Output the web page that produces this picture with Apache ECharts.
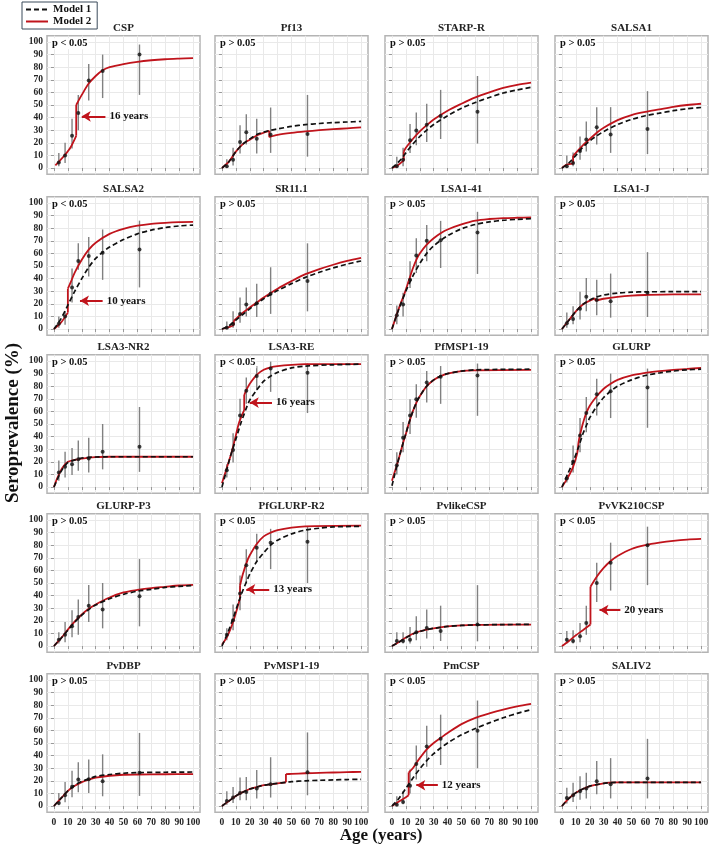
<!DOCTYPE html>
<html><head><meta charset="utf-8">
<script src="https://cdn.jsdelivr.net/npm/echarts@6/dist/echarts.min.js"></script>
<style>html,body{margin:0;padding:0;background:#fff}#c{width:718px;height:847px}</style>
</head><body><div id="c"></div>
<script>
// ---------------- DATA ----------------
const panelNames = ['CSP','Pf13','STARP-R','SALSA1','SALSA2','SR11.1','LSA1-41','LSA1-J',
  'LSA3-NR2','LSA3-RE','PfMSP1-19','GLURP','GLURP-P3','PfGLURP-R2','PvlikeCSP','PvVK210CSP',
  'PvDBP','PvMSP1-19','PmCSP','SALIV2'];
const pValues = ['p < 0.05','p > 0.05','p > 0.05','p > 0.05','p < 0.05','p > 0.05','p > 0.05','p > 0.05',
  'p > 0.05','p < 0.05','p > 0.05','p > 0.05','p > 0.05','p < 0.05','p > 0.05','p < 0.05',
  'p > 0.05','p > 0.05','p < 0.05','p > 0.05'];
const ageGroups = [3.5, 8, 13, 17.5, 25, 35, 61.5];
const tickValues = [0,10,20,30,40,50,60,70,80,90,100];

const observed = [
  [4.4,10,25.6,43.7,69.5,77,90],
  [1.3,6.5,20.7,28.4,23.3,26.4,27],
  [1.3,6.5,22,29.7,34.4,41.3,44.7],
  [1.3,4,13.4,22.7,32.3,26.6,31],
  [4.2,10,33,54,58,60.5,63],
  [1,4,12,19.5,20.5,28,38],
  [11,19.5,39,58.4,70,70.5,76.6],
  [4.5,8,16,25.5,23,22,28.7],
  [11.5,16,18,22,22.7,28,32],
  [13.3,29.3,56.8,76.3,88,94,90.7],
  [17.3,39,56.8,69.6,83,87.5,88.5],
  [6.7,20,40.8,58.7,73.6,76,79],
  [5,9,15.6,23,32,29,39.5],
  [9,20.4,41.6,64,78,82,82.7],
  [4,4,5,11,14.3,12,17],
  [5,4,7.7,18.3,50,66,80],
  [2.4,8.5,15.2,21,21.3,19.7,26.4],
  [4,6.7,10.4,11.2,13.9,17.3,26.7],
  [1,3.2,16,33.3,47.2,53.3,59.7],
  [6.4,8.5,11.7,13.9,19.7,17.3,21.9]
];
const lowerCI = [
  [1.3,4,15.5,30,53.5,55.5,58],
  [0,2,11.6,18.6,11.6,12,9],
  [0,1.3,12,18,20.7,23,19.4],
  [0,1.3,6.5,13,18.6,12,11],
  [1,3.4,21,47,41.6,39,33],
  [0,1,5,10,9.5,12,14],
  [3.7,10,32.6,44.5,53.7,48.4,43.7],
  [1,3.7,7.6,14,11,9,9.5],
  [5,7.5,9.6,12.8,11.5,14,12],
  [7.5,19.5,52.8,66,76.8,75.5,58.7],
  [10,27.5,42,55,67,66,56.5],
  [3.5,11.5,27.5,43.5,56.8,54.7,47],
  [2,3,7,9,19,14,15.6],
  [4.5,12.5,28.4,49.6,67,61,50],
  [2,2,2,4.5,6,4,3.7],
  [2,2,3,9,35,44,48.3],
  [0.5,3,7,11,10.4,7.7,8],
  [1,2.4,4.5,4.5,6,6.7,8.5],
  [0,1.3,10,21,31.2,32.5,30],
  [2,3.2,5,6,9.3,6,6]
];
const upperCI = [
  [12,20,39,58,82.5,90,98],
  [7,16,34,42.6,39,48,58],
  [9,16,35,44,51,62,73],
  [10,12.4,25,37,48.3,48.3,61],
  [10,14,48,68,73,79,86],
  [6,14,25,33,36,49,68],
  [18.7,28.7,53.7,72,82.6,85.8,93],
  [13,18,29.5,40.5,39,44,61],
  [21,28,31,37,39,50,63.5],
  [18,42.7,70,87,96,99.5,98],
  [27.5,51.5,69.6,81.6,92,96,98],
  [10,33,54.7,71.5,86,90,94],
  [11,19,28.4,37,48.5,50,69],
  [14,33,56,76.7,89,93,95],
  [11,11,15,23.6,29,32,48.3],
  [12,12.5,18.3,32,66,82,94.7],
  [10.4,19,28,34.7,37,41,58],
  [11.7,15,22.7,23,28.5,38.7,58.4],
  [7.7,12,29,48,63.7,72.5,83.7],
  [14.4,18.4,23.7,26.4,35.7,38,53.3]
];
// Model 1 curves ([age, %]); null = not shown
const model1 = [
  null,
  [[0,0],[5,5],[10,13],[15,19],[20,23],[25,26.5],[30,28.5],[35,30],[40,31],[50,33],[60,34.4],[70,35.3],[80,36],[90,36.5],[100,37]],
  [[0,0],[5,5],[10,12],[15,19],[20,25],[25,30],[30,34.5],[40,41.5],[50,47.5],[60,52],[70,56],[80,59.5],[90,62],[100,64]],
  [[0,0],[5,4],[10,10],[15,16.5],[20,21.5],[25,25.5],[30,29],[40,34.5],[50,38.5],[60,41.5],[70,43.5],[80,45.5],[90,47],[100,48]],
  [[0,0],[5,8],[10,19],[15,30],[20,40],[25,49],[30,56],[35,61],[40,65],[50,71],[60,75.5],[70,78.5],[80,80.5],[90,81.8],[100,82.5]],
  [[0,0],[5,2.5],[10,7],[15,11.5],[20,16],[25,20],[30,24],[40,30.5],[50,36],[60,41],[70,45],[80,48.5],[90,51.5],[100,54]],
  [[0,0],[5,16],[10,30],[15,42],[20,52],[25,60],[30,66],[40,74],[50,79.5],[60,83],[70,85],[80,86.3],[90,87],[100,87.5]],
  [[0,0],[5,7],[10,14],[15,19.5],[20,23],[25,25.5],[30,27],[40,28.5],[50,29.2],[60,29.5],[80,29.6],[100,29.6]],
  [[0,0],[2,5],[4,10],[6,14],[8,17],[10,19.5],[15,21.5],[20,23],[30,23.8],[40,24],[100,24]],
  [[0,0],[2,8],[4,16],[6,24],[8,31],[10,38],[12,45],[14,52],[16,58],[18,64],[20,69],[25,77],[30,84],[35,88],[40,91],[50,94.5],[60,96],[80,97],[100,97.5]],
  [[0,1],[2,10],[4,19],[6,27],[8,35],[10,42.5],[12,50],[15,60],[18,68],[20,72],[25,80],[30,85],[35,88],[40,90],[50,92],[60,93],[100,93.5]],
  [[0,0],[4,10],[8,20],[12,32],[15,42],[18,50],[20,55],[25,64],[30,71],[35,76],[40,80],[50,85],[60,88.5],[70,90.5],[80,92],[90,93],[100,93.5]],
  [[0,0],[5,6],[10,12.5],[15,19],[20,24.5],[25,29],[30,32.5],[40,37.5],[50,41],[60,43.5],[70,45],[80,46.5],[90,47.3],[100,48]],
  [[0,0],[4,10],[8,22],[12,35],[15,44],[18,52],[20,57],[25,67],[30,74],[35,80],[40,84],[50,89],[60,92],[70,93.5],[80,94.5],[100,95]],
  [[0,0],[5,3],[10,6.5],[15,9.5],[20,11.5],[25,13],[30,14],[40,15.5],[50,16.3],[60,16.7],[80,17],[100,17.2]],
  null,
  [[0,0],[5,6],[10,12],[15,16.5],[20,19.5],[25,21.5],[30,23.5],[40,25],[50,26],[60,26.5],[80,26.8],[100,27]],
  [[0,0],[5,4],[10,8],[15,11],[20,13.5],[25,15],[30,16.5],[40,18],[46,18.8],[50,19.3],[60,20],[70,20.4],[80,20.7],[90,21],[100,21.2]],
  [[0,0],[5,6],[10,14],[15,22],[20,29.5],[25,36],[30,41.5],[35,46],[40,50],[50,56.5],[60,61.5],[70,66],[80,70],[90,73.5],[100,76.5]],
  [[0,0],[5,6],[10,10.5],[15,13.5],[20,15.8],[25,17],[30,18],[35,18.5],[40,18.7],[100,18.8]]
];
// Model 2 curves; null separates the segments on each side of a change point
const model2 = [
  [[1,2],[4,5.5],[8,10.5],[12,16.5],[16,25.5],null,[16,50],[20,58],[25,67],[30,73],[35,77.5],[40,80],[50,82.5],[60,84.3],[70,85.5],[80,86.3],[90,86.8],[100,87.2]],
  [[0,0],[5,5],[10,13],[15,19],[20,22.5],[25,25.8],[30,28],[34,29.5],null,[34,24.5],[40,26.2],[50,27.8],[60,29],[70,30],[80,30.8],[90,31.5],[100,32.2]],
  [[0,0],[4,2],[8.5,6],null,[8.5,13],[10,16],[15,23],[20,29],[25,34],[30,38.5],[40,45.5],[50,51],[60,56],[70,60],[80,63.5],[90,66],[100,67.7]],
  [[0,0],[3,2.5],[8,3.5],null,[8,9.5],[10,12],[15,18],[20,23],[25,28],[30,32],[40,38],[50,42],[60,44.5],[70,46.5],[80,48.5],[90,50],[100,51]],
  [[0,0],[5,5],[10,13],null,[10,32],[12,37],[15,45],[20,55],[25,63],[30,68.5],[40,75.5],[50,79.5],[60,82],[70,83.5],[80,84.3],[90,84.8],[100,85]],
  [[0,0],[5,1.5],[8.5,3],null,[8.5,6.5],[10,8],[15,13],[20,17],[25,21],[30,25],[40,32],[50,38],[60,43.5],[70,47.5],[80,51],[90,54],[100,56.5]],
  [[0,0],[3,10],[6,19.5],[9,28],[12,38],[15,48],[18,56],[20,60],[25,67],[30,72],[35,76],[40,79],[50,83],[60,86],[70,87.3],[80,88],[90,88.3],[100,88.5]],
  [[0,0],[5,7],[10,14],[15,19.5],[20,22.5],[24,24.3],null,[24,22.5],[30,24],[40,25.5],[50,26.5],[60,27],[80,27.5],[100,27.5]],
  [[0,0],[2,6],[4,11],[6,15],[8,18],[10,20],[15,21.5],[20,22.5],[25,23.3],[30,23.7],[40,24],[100,24]],
  [[0,3],[2,10],[4,17],[6,24],[8,32],[10,41],[12,50],[14,56],[16,61],null,[16,73],[18,78],[20,82],[25,89],[30,93],[35,95],[40,96],[50,97],[60,97.5],[100,97.5]],
  [[0,5],[2,12],[4,19],[6,27],[8,35],[10,42],[12,50],[15,60],[18,68],[20,72],[25,80],[30,85],[35,88],[40,90],[50,92],[60,92.5],[100,93]],
  [[0,0],[4,7],[8,16],[11,27],[12,36],[14,46],[16,54],[18,60],[20,64.5],[25,72],[30,78],[35,82],[40,85],[50,88.5],[60,90.5],[70,92],[80,93],[90,93.7],[100,94.5]],
  [[0,0],[5,6],[10,13],[15,19.5],[20,25],[25,29.5],[30,33],[40,38.5],[50,42.5],[60,44.5],[70,46],[80,47],[90,48],[100,48.5]],
  [[0,1],[4,8],[8,19],[11,30],[13,38],null,[13,48],[15,57],[18,67],[20,72],[25,81],[30,87],[35,90],[40,92],[50,94],[60,95],[100,95.5]],
  [[0,0],[5,3.2],[10,6.7],[15,9.7],[20,11.7],[25,13],[30,14],[40,15.5],[50,16.3],[60,16.7],[80,17],[100,17]],
  [[0,0],[5,4],[10,8.5],[15,12.5],[20.5,17],null,[20.5,47],[25,55],[30,62],[35,67.5],[40,71.5],[50,77],[60,80],[70,82],[80,83.5],[90,84.5],[100,85]],
  [[0,0],[5,6],[10,12],[15,16],[20,19],[25,21],[30,22.5],[40,24],[50,24.8],[60,25],[80,25.2],[100,25.3]],
  [[0,0],[5,4],[10,8],[15,11],[20,13.5],[25,15],[30,16.5],[40,18],[46,18.8],null,[46,25.3],[50,25.5],[60,26],[70,26.3],[80,26.6],[90,26.9],[100,27.1]],
  [[0,0],[5,3.5],[10,7],[12,8.5],null,[12,26.5],[15,30],[20,38],[25,45],[30,50],[35,54],[40,58],[50,65],[60,70],[70,73.5],[80,76.5],[90,79],[100,81]],
  [[0,0],[5,6],[10,10.5],[15,13.5],[20,15.8],[25,17],[30,18],[35,18.5],[40,18.7],[100,18.8]]
];
// change-point annotations: panel, label, level (%), arrow tip age, arrow tail age
const changePanels = [0, 4, 9, 13, 15, 18];
const changeLabels = ['16 years','10 years','16 years','13 years','20 years','12 years'];
const changeLevel = [41, 22.4, 67, 45, 28.5, 16.5];
const changeTip = [20, 18.7, 20, 17.5, 27, 17.5];
const changeTail = [37, 35, 36, 34, 42, 33];

// ---------------- LAYOUT / STYLE ----------------
const FONT = '"Liberation Serif", "Times New Roman", serif';
const RED = '#c0141c';
const colLeft = [47, 215, 385, 555];
const rowY0 = [168, 329, 487, 646, 806];
const PX_Y = 1.26;
const gridW = 153;
const gridH = 110 * PX_Y;

const chart = echarts.init(document.getElementById('c'), null, {renderer: 'canvas'});
const grids = [], xAxes = [], yAxes = [], series = [], graphics = [];

function splitSegments(arr) {
  const segs = []; let cur = [];
  arr.forEach(p => { if (p === null) { segs.push(cur); cur = []; } else cur.push(p); });
  segs.push(cur);
  return segs;
}

panelNames.forEach((name, i) => {
  const r = Math.floor(i / 4), c = i % 4;
  const top = rowY0[r] - 105 * PX_Y;
  const left = colLeft[c];
  grids.push({left: left, top: top, width: gridW, height: gridH, show: true,
    borderColor: '#b4b4b4', borderWidth: 1.5, backgroundColor: '#fff', containLabel: false});
  const axisCommon = {
    type: 'value', gridIndex: i, min: -5, max: 105, interval: 5,
    axisLine: {show: false},
    splitLine: {show: true, lineStyle: {color: '#e9e9e9', width: 1}},
    axisTick: {show: true, customValues: tickValues, length: 3, inside: false, lineStyle: {color: '#999', width: 1}},
  };
  xAxes.push(Object.assign({}, axisCommon, {
    axisLabel: {show: r === 4, customValues: tickValues, fontFamily: FONT, fontWeight: 'bold', fontSize: 9.5, color: '#222', margin: 5}
  }));
  yAxes.push(Object.assign({}, axisCommon, {
    axisLabel: {show: c === 0, customValues: tickValues, fontFamily: FONT, fontWeight: 'bold', fontSize: 9.5, color: '#222', margin: 4}
  }));

  // error bars
  series.push({
    type: 'custom', name: 'ci' + i, xAxisIndex: i, yAxisIndex: i, silent: true, z: 2,
    data: ageGroups.map((a, k) => [a, lowerCI[i][k], upperCI[i][k]]),
    encode: {x: 0, y: [1, 2]},
    renderItem: (params, api) => {
      const p1 = api.coord([api.value(0), api.value(1)]);
      const p2 = api.coord([api.value(0), api.value(2)]);
      return {type: 'line', shape: {x1: p1[0], y1: p1[1], x2: p2[0], y2: p2[1]},
        style: {stroke: '#808080', lineWidth: 1.4}};
    }
  });
  // model 2 (red)
  const segs = splitSegments(model2[i]);
  segs.forEach((seg, s) => {
    series.push({type: 'line', name: 'Model 2', xAxisIndex: i, yAxisIndex: i, data: seg,
      smooth: 0.3, showSymbol: false, symbol: 'none', silent: true, z: 3,
      lineStyle: {color: RED, width: 1.8}, itemStyle: {color: RED}});
    if (s < segs.length - 1) {
      series.push({type: 'line', name: 'Model 2', xAxisIndex: i, yAxisIndex: i,
        data: [seg[seg.length - 1], segs[s + 1][0]], showSymbol: false, symbol: 'none', silent: true, z: 3,
        lineStyle: {color: RED, width: 1.8}, itemStyle: {color: RED}});
    }
  });
  // model 1 (dashed)
  if (model1[i]) {
    series.push({type: 'line', name: 'Model 1', xAxisIndex: i, yAxisIndex: i, data: model1[i],
      smooth: 0.3, showSymbol: false, symbol: 'none', silent: true, z: 4,
      lineStyle: {color: '#111', width: 1.7, type: [5, 3]}, itemStyle: {color: '#111'}});
  }
  // observed points
  const sc = {type: 'scatter', name: 'obs' + i, xAxisIndex: i, yAxisIndex: i, silent: true, z: 5,
    data: ageGroups.map((a, k) => [a, observed[i][k]]), symbolSize: 4, itemStyle: {color: '#111'}};
  const ci = changePanels.indexOf(i);
  if (ci >= 0) {
    sc.markLine = {silent: true, animation: false, symbol: ['none', 'arrow'], symbolSize: [8, 9],
      lineStyle: {color: RED, width: 2, type: 'solid'},
      label: {show: true, position: 'start', formatter: changeLabels[ci], color: '#111',
        fontFamily: FONT, fontWeight: 'bold', fontSize: 11, distance: 4},
      data: [[{coord: [changeTail[ci], changeLevel[ci]]}, {coord: [changeTip[ci], changeLevel[ci]]}]]};
  }
  series.push(sc);

  graphics.push({type: 'text', x: left + gridW / 2, y: top - 8,
    style: {text: name, font: 'bold 11px ' + FONT, fill: '#222', textAlign: 'center', textVerticalAlign: 'middle'}});
  graphics.push({type: 'text', x: left + 4, y: top + 8, z: 10,
    style: {text: pValues[i], font: 'bold 10.5px ' + FONT, fill: '#111', textAlign: 'left', textVerticalAlign: 'middle',
      backgroundColor: '#fff', padding: [0, 1]}});
});

graphics.push({type: 'text', x: 13, y: 423, rotation: Math.PI / 2,
  style: {text: 'Seroprevalence (%)', font: 'bold 19px ' + FONT, fill: '#111', textAlign: 'center', textVerticalAlign: 'middle'}});
graphics.push({type: 'text', x: 381, y: 836,
  style: {text: 'Age (years)', font: 'bold 17px ' + FONT, fill: '#111', textAlign: 'center', textVerticalAlign: 'middle'}});

chart.setOption({
  animation: false,
  grid: grids, xAxis: xAxes, yAxis: yAxes, series: series,
  legend: {data: ['Model 1', 'Model 2'], orient: 'vertical', left: 22, top: 2,
    itemWidth: 22, itemHeight: 8, itemGap: 1, padding: [2, 6, 2, 3],
    borderColor: '#3a4a5a', borderWidth: 1, backgroundColor: '#fff',
    itemStyle: {opacity: 0, borderWidth: 0},
    textStyle: {fontFamily: FONT, fontWeight: 'bold', fontSize: 11, color: '#111'}},
  graphic: graphics
});
</script>
</body></html>
